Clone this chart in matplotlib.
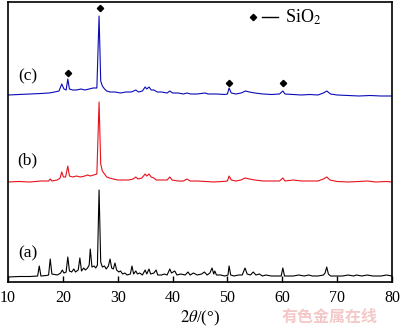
import matplotlib
matplotlib.use("Agg")
import matplotlib.pyplot as plt

plt.rcParams['font.family'] = ['Liberation Serif', 'DejaVu Serif']
plt.rcParams['mathtext.fontset'] = 'stix'

# pattern (a) - raw, intensity above its own baseline
xa = [10, 12, 14, 15.4, 15.7, 16.0, 17.0, 17.4, 17.7, 18.0, 19.0, 19.6, 19.9, 20.2, 20.6, 20.9, 21.2,
      21.6, 22.0, 22.3, 22.8, 23.1, 23.4, 23.8, 24.1, 24.5, 24.8, 25.0, 25.3, 25.7, 26.0, 26.3, 26.6,
      26.9, 27.2, 27.6, 27.9, 28.3, 28.6, 28.9, 29.2, 29.5, 29.8, 30.2, 30.5, 30.9, 31.3, 31.7, 32.3,
      32.6, 32.9, 33.3, 33.6, 34.0, 34.5, 35.0, 35.3, 35.7, 36.0, 36.6, 37.0, 37.3, 38.0, 38.5, 39.0,
      39.5, 39.8, 40.4, 40.8, 41.5, 42.3, 42.8, 43.2, 43.8, 44.5, 45.3, 45.8, 46.3, 46.8, 47.2, 47.5,
      47.7, 48.0, 48.8, 49.5, 50.1, 50.3, 50.6, 51.2, 52.0, 52.7, 53.2, 53.6, 54.2, 54.7, 55.2, 55.8,
      56.4, 57.0, 58.0, 59.0, 59.8, 60.1, 60.4, 61.0, 62.0, 63.0, 64.0, 64.8, 65.5, 66.5, 67.5, 67.8,
      68.1, 68.4, 68.8, 70.0, 71.0, 72.0, 73.0, 73.5, 74.5, 75.5, 76.5, 78.0, 79.0, 80]
ya = [0, 0.5, 0.5, 1, 11, 1, 1.5, 2, 18, 3, 2, 4, 7, 4, 5, 20, 6,
      5, 8, 5, 7, 19, 6, 9, 7, 9, 12, 28, 10, 11, 9, 12, 87,
      15, 10, 11, 8, 11, 18, 9, 8, 14, 7, 5, 6, 3, 4, 2, 3,
      11, 3, 6, 3, 4, 2, 7, 3, 8, 3, 4, 7, 2, 2, 3, 2,
      8, 4, 6, 2, 3, 2, 5, 2, 4, 2, 3, 5, 2, 4, 9, 3,
      6, 2, 2, 1, 2, 11, 2, 1, 2, 2, 9, 3, 2, 5, 2, 3,
      1, 2, 1, 1, 1, 9, 1, 1, 1, 2, 1, 2, 1, 1, 2, 4,
      10, 3, 1, 1, 1, 2, 1, 2, 1, 2, 1, 1, 2, 1]

# pattern (b)
xb = [10, 12, 14, 16, 17.4, 17.7, 18.0, 19.0, 19.5, 19.8, 20.1, 20.5, 20.9, 21.2, 21.8, 22.5, 23.2,
      24.0, 24.5, 25.0, 25.6, 26.2, 26.6, 26.9, 27.2, 27.6, 28.0, 28.5, 29.2, 30.0, 31.0, 32.0, 32.8,
      33.3, 33.7, 34.4, 35.0, 35.3, 35.7, 36.1, 36.6, 37.0, 38.0, 39.0, 39.5, 39.9, 41.0, 42.0, 42.6,
      43.2, 44.5, 46.0, 47.5, 49.0, 50.0, 50.3, 50.7, 51.5, 52.5, 53.2, 54.0, 55.0, 56.5, 58.0, 59.5,
      60.1, 60.5, 62.0, 63.5, 65.0, 66.5, 67.5, 68.1, 68.7, 70.0, 72.0, 74.0, 75.5, 77.0, 79.0, 80]
yb = [0, 0.5, 0, 1, 1, 3, 1, 2, 4, 10, 5, 5, 16, 6, 5, 6, 5,
      6, 7, 6, 7, 8, 80, 18, 11, 8, 5, 4, 3, 2, 2, 2, 3,
      5, 3, 4, 8, 6, 8, 5, 4, 2, 2, 2, 5, 2, 1, 1, 3,
      1, 1, 0.5, 0, 0.5, 1, 6, 2, 1, 2, 4, 3, 2, 1, 1, 1,
      4, 1, 2, 1, 1, 1, 3, 5, 2, 0.5, 0, 0.5, 1, 0, 0.5, 0]

# pattern (c)
xc = [10, 12, 14, 16, 17.5, 18.5, 19.3, 19.8, 20.2, 20.6, 20.9, 21.2, 21.8, 22.5, 23.3, 24.0, 24.8,
      25.5, 26.2, 26.6, 26.9, 27.2, 27.6, 28.0, 28.6, 29.5, 30.5, 31.5, 32.5, 33.3, 33.8, 34.5, 35.0,
      35.3, 35.7, 36.1, 36.6, 37.2, 38.0, 39.0, 39.5, 40.0, 41.0, 42.0, 42.6, 43.3, 44.5, 45.9, 46.5,
      48.0, 49.5, 50.0, 50.3, 50.7, 51.5, 52.5, 53.3, 54.0, 55.0, 56.5, 58.0, 59.5, 60.1, 60.5, 62.0,
      63.5, 65.0, 66.5, 67.5, 68.1, 68.8, 70.0, 72.0, 74.0, 76.0, 78.0, 80]
yc = [0, 0.5, 1, 1.5, 2, 3, 4, 11, 6, 5, 16, 6, 5, 5, 6, 5, 6,
      7, 7, 79, 14, 9, 6, 4, 3, 3, 2, 3, 3, 5, 3, 4, 8,
      6, 8, 5, 5, 3, 3, 2, 4, 2, 2, 1, 2, 1, 1, 2, 1,
      1, 0.5, 1, 7, 2, 1, 2, 4, 3, 2, 1, 0.5, 1, 4, 1, 0.5,
      0, 0.5, 0, 2, 4, 1, 0, -0.5, -1, -0.5, -1, -1]

# SiO2 markers (position, height in plot units)
sio2_x = [26.7, 20.9, 50.3, 60.1]
sio2_y = [274, 209, 199, 199]

patterns = [(xa, ya, 'black', 5, '(a)', 29),
            (xb, yb, '#e8101c', 100, '(b)', 122),
            (xc, yc, '#0a0ab8', 187, '(c)', 206)]

fig = plt.figure(figsize=(4.0, 3.27), dpi=100)
ax = fig.add_axes([0.02, 0.1376, 0.96, 0.8563])

for x, y, col, off, lab, ly in patterns:
    ax.plot(x, [v + off for v in y], color=col, lw=0.8)
    ax.text(13.6, ly, lab, fontsize=12.5, ha='center', va='center')

ax.plot(sio2_x, sio2_y, 'D', color='black', ms=3.2, ls='none')

# legend
ax.plot([54.7], [265], 'D', color='black', ms=3.2)
ax.plot([56.3, 59.2], [265, 265], color='black', lw=1.0)
ax.text(60.5, 265, r'SiO$_2$', fontsize=13, ha='left', va='center')

ax.set_xlim(10, 80)
ax.set_ylim(0, 280)
ax.set_xticks(range(10, 81, 10))
ax.set_yticks([])
ax.tick_params(axis='x', direction='in', length=4, width=1, labelsize=11.5, pad=6)
for s in ax.spines.values():
    s.set_linewidth(1.2)
ax.set_xlabel(r'$2\theta$/(°)', fontsize=12, labelpad=2)

fig.text(0.825, 0.032, '有色金属在线', color='#f5c8c8', fontsize=11.5,
         family=['Noto Sans CJK SC', 'DejaVu Sans'], ha='center', va='center', weight='bold')

fig.savefig('out.png', dpi=100)
